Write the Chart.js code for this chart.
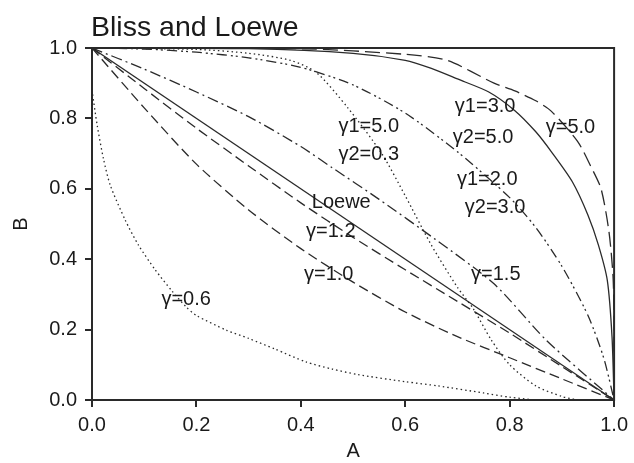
<!DOCTYPE html>
<html>
<head>
<meta charset="utf-8">
<script src="https://cdn.jsdelivr.net/npm/chart.js@4/dist/chart.umd.min.js"></script>
<style>
    html, body { margin: 0; padding: 0; background: #fff; }
    #wrap { width: 634px; height: 463px; position: relative; }
</style>
</head>
<body>
<div id="wrap"><canvas id="isoboles"></canvas></div>
<script>
// Isobole curves, A values and matching B values
const loeweA = [0, 1];
const loeweB = [1, 0];

const g12A = [0, 0.1, 0.2, 0.3, 0.4, 0.5, 0.6, 0.7, 0.8, 0.9, 1];
const g12B = [1, 0.885, 0.772, 0.665, 0.56, 0.462, 0.37, 0.28, 0.19, 0.095, 0];

const g10A = [0, 0.1, 0.2, 0.3, 0.4, 0.5, 0.6, 0.7, 0.8, 0.9, 1];
const g10B = [1, 0.83, 0.67, 0.54, 0.43, 0.335, 0.25, 0.18, 0.12, 0.06, 0];

const g15A = [0, 0.1, 0.2, 0.3, 0.4, 0.46, 0.55, 0.657, 0.77, 0.87, 1];
const g15B = [1, 0.94, 0.875, 0.805, 0.72, 0.66, 0.57, 0.457, 0.33, 0.17, 0];

const g2030A = [0, 0.1, 0.2, 0.3, 0.4, 0.5, 0.6, 0.7, 0.8, 0.85, 0.9, 0.95, 0.98, 1];
const g2030B = [1, 0.997, 0.988, 0.972, 0.945, 0.895, 0.815, 0.705, 0.575, 0.49, 0.38, 0.24, 0.12, 0];

const g3050A = [0, 0.3, 0.5, 0.6, 0.65, 0.7, 0.76, 0.81, 0.85, 0.88, 0.92, 0.95, 0.97, 0.987, 0.996, 1];
const g3050B = [1, 0.998, 0.985, 0.965, 0.942, 0.912, 0.875, 0.822, 0.762, 0.705, 0.62, 0.525, 0.44, 0.34, 0.18, 0];

const g50A = [0, 0.4, 0.6, 0.68, 0.77, 0.81, 0.85, 0.88, 0.93, 0.955, 0.975, 0.99, 0.998, 1, 1];
const g50B = [1, 0.998, 0.982, 0.965, 0.9, 0.878, 0.85, 0.82, 0.735, 0.665, 0.6, 0.48, 0.35, 0.2, 0];

const g5003A = [0, 0.2, 0.3, 0.38, 0.43, 0.49, 0.555, 0.6, 0.65, 0.7, 0.73, 0.765, 0.8, 0.85, 0.9, 0.93];
const g5003B = [1, 0.996, 0.985, 0.965, 0.93, 0.83, 0.7, 0.58, 0.44, 0.32, 0.26, 0.17, 0.1, 0.04, 0.01, 0];

const g06A = [0, 0.01, 0.022, 0.035, 0.064, 0.089, 0.121, 0.153, 0.18, 0.2, 0.258, 0.3, 0.35, 0.41, 0.46, 0.51, 0.6, 0.663, 0.75, 0.8, 0.85];
const g06B = [0.88, 0.78, 0.685, 0.61, 0.51, 0.44, 0.37, 0.31, 0.265, 0.24, 0.198, 0.175, 0.145, 0.108, 0.088, 0.072, 0.052, 0.04, 0.02, 0.008, 0];

// Axis ticks
const tickValues = [0, 0.2, 0.4, 0.6, 0.8, 1.0];

// Curve labels: text, A of left edge, B of baseline
const labelText = ['γ1=5.0', 'γ2=0.3', 'γ1=3.0', 'γ2=5.0', 'γ=5.0', 'γ1=2.0', 'γ2=3.0', 'Loewe', 'γ=1.2', 'γ=1.0', 'γ=1.5', 'γ=0.6'];
const labelA = [0.472, 0.472, 0.695, 0.691, 0.869, 0.699, 0.714, 0.421, 0.41, 0.406, 0.726, 0.133];
const labelB = [0.761, 0.682, 0.818, 0.730, 0.759, 0.611, 0.531, 0.545, 0.463, 0.341, 0.341, 0.270];

const zip = (xs, ys) => xs.map((x, i) => ({ x, y: ys[i] }));
const ink = '#2a2a2a';
const FONT = 'Liberation Sans, Arial, sans-serif';

const line = (label, xs, ys, dash, tension = 0.25) => ({
    label,
    data: zip(xs, ys),
    showLine: true,
    borderColor: ink,
    borderWidth: 1.3,
    borderDash: dash,
    pointRadius: 0,
    tension,
    fill: false
});

const datasets = [
    line('Loewe', loeweA, loeweB, [], 0),
    line('γ=1.2', g12A, g12B, [10, 5]),
    line('γ=1.0', g10A, g10B, [10, 5]),
    line('γ=1.5', g15A, g15B, [11, 4, 2, 4]),
    line('γ1=2.0 γ2=3.0', g2030A, g2030B, [10, 4, 2, 3, 2, 4]),
    line('γ1=3.0 γ2=5.0', g3050A, g3050B, []),
    line('γ=5.0', g50A, g50B, [15, 6]),
    line('γ1=5.0 γ2=0.3', g5003A, g5003B, [1.5, 3]),
    line('γ=0.6', g06A, g06B, [1.5, 3])
];

// frame, title and curve labels
const decor = {
    id: 'decor',
    afterDatasetsDraw(chart) {
        const { ctx, chartArea: a, scales: { x, y } } = chart;
        ctx.save();
        ctx.strokeStyle = ink;
        ctx.lineWidth = 2;
        ctx.strokeRect(a.left, a.top, a.right - a.left, a.bottom - a.top);

        ctx.fillStyle = '#1a1a1a';
        ctx.font = `28.5px ${FONT}`;
        ctx.textBaseline = 'alphabetic';
        ctx.textAlign = 'left';
        ctx.fillText('Bliss and Loewe', a.left - 1, 36);

        ctx.font = `20px ${FONT}`;
        labelText.forEach((t, i) => {
            ctx.fillText(t, x.getPixelForValue(labelA[i]), y.getPixelForValue(labelB[i]));
        });
        ctx.restore();
    }
};

const axis = (titleText, titlePad, tickPad) => ({
    type: 'linear',
    min: 0,
    max: 1,
    afterBuildTicks: s => { s.ticks = tickValues.map(v => ({ value: v })); },
    ticks: {
        color: '#1a1a1a',
        font: { family: FONT, size: 20 },
        padding: tickPad,
        callback: v => v.toFixed(1)
    },
    grid: { drawOnChartArea: false, drawTicks: true, tickLength: 7, color: ink, lineWidth: 2 },
    border: { display: true, color: ink, width: 2 },
    title: { display: true, text: titleText, color: '#1a1a1a', font: { family: FONT, size: 20 }, padding: titlePad }
});

const xAxis = axis('A', { top: 0, bottom: 0 }, 6);
xAxis.afterFit = s => { s.height = 63; };
const yAxis = axis('B', { top: 9, bottom: 0 }, 8);
yAxis.afterFit = s => { s.width = 92; };

new Chart(document.getElementById('isoboles'), {
    type: 'scatter',
    data: { datasets },
    options: {
        responsive: true,
        maintainAspectRatio: false,
        animation: false,
        layout: { padding: { top: 48, right: 17, left: 0, bottom: 0 } },
        plugins: {
            legend: { display: false },
            tooltip: { enabled: false }
        },
        scales: { x: xAxis, y: yAxis }
    },
    plugins: [decor]
});
</script>
</body>
</html>
